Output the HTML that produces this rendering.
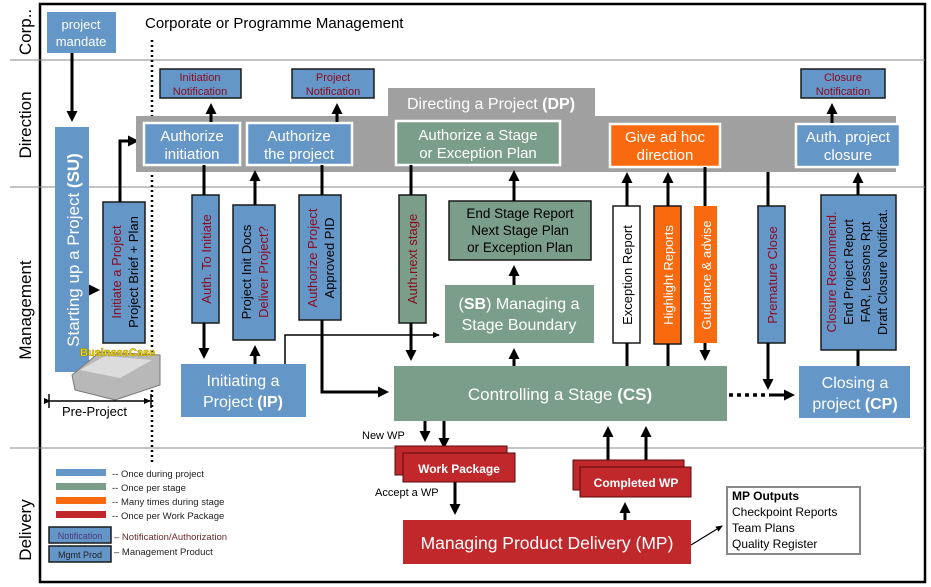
<!DOCTYPE html>
<html><head><meta charset="utf-8"><style>
html,body{margin:0;padding:0;background:#fff;}
svg{display:block;font-family:"Liberation Sans",sans-serif;}
</style></head><body>
<svg width="931" height="587" viewBox="0 0 931 587" xmlns="http://www.w3.org/2000/svg">
<defs>
<marker id="a" markerWidth="11" markerHeight="11" refX="8" refY="5.5" orient="auto" markerUnits="userSpaceOnUse"><path d="M0,0 L11,5.5 L0,11 z" fill="#000"/></marker>
<marker id="s" markerWidth="8" markerHeight="8" refX="6" refY="4" orient="auto" markerUnits="userSpaceOnUse"><path d="M0,1 L7,4 L0,7 z" fill="#000"/></marker>
</defs>
<rect x="40" y="4" width="885" height="578" fill="none" stroke="#000" stroke-width="2.5"/>
<line x1="10" y1="60" x2="925" y2="60" stroke="#888" stroke-width="1"/>
<line x1="10" y1="187" x2="925" y2="187" stroke="#888" stroke-width="1"/>
<line x1="10" y1="448" x2="925" y2="448" stroke="#888" stroke-width="1"/>
<g font-size="17" fill="#000" text-anchor="middle">
<text transform="translate(31,32) rotate(-90)">Corp..</text>
<text transform="translate(31,125) rotate(-90)">Direction</text>
<text transform="translate(31,310) rotate(-90)">Management</text>
<text transform="translate(31,530) rotate(-90)">Delivery</text>
</g>
<text x="145" y="28" font-size="15">Corporate or Programme Management</text>
<line x1="152" y1="40" x2="152" y2="462" stroke="#000" stroke-width="2.5" stroke-dasharray="2,3"/>

<rect x="47" y="12" width="69" height="41" fill="#6496c8"/>
<text x="81" y="29" font-size="13" fill="#fff" text-anchor="middle">project</text>
<text x="81" y="46" font-size="13" fill="#fff" text-anchor="middle">mandate</text>
<line x1="72" y1="53" x2="72" y2="119" stroke="#000" stroke-width="3" marker-end="url(#a)"/>

<rect x="55" y="127" width="34" height="245" fill="#6496c8"/>
<text transform="translate(79,250) rotate(-90)" font-size="17" fill="#fff" text-anchor="middle">Starting up a Project <tspan font-weight="bold">(SU)</tspan></text>
<line x1="89" y1="290" x2="97" y2="290" stroke="#000" stroke-width="3" marker-end="url(#a)"/>

<rect x="103" y="202" width="42" height="141" fill="#6496c8" stroke="#1a1a1a" stroke-width="1.5"/>
<text transform="translate(121,272) rotate(-90)" font-size="13" fill="#8b0a1e" text-anchor="middle">Initiate a Project</text>
<text transform="translate(138,272) rotate(-90)" font-size="13" fill="#000" text-anchor="middle">Project Brief + Plan</text>
<polyline points="120,202 120,141 136,141" fill="none" stroke="#000" stroke-width="3" marker-end="url(#a)"/>

<path d="M72,375 L100,352 L160,355 L160,385 L115,400 L75,390 z" fill="#b8b8b8" stroke="#777"/>
<path d="M80,370 L105,356 L152,360 L120,378 z" fill="#dcdcdc"/>
<text x="80" y="356" font-size="11" font-weight="bold" fill="#f5e000" stroke="#a08000" stroke-width="0.4">BusinessCase</text>
<line x1="50" y1="401" x2="150" y2="401" stroke="#000" stroke-width="1.5" marker-end="url(#s)" marker-start="url(#s)"/>
<line x1="49" y1="394" x2="49" y2="408" stroke="#000" stroke-width="1.5"/>
<line x1="151" y1="394" x2="151" y2="408" stroke="#000" stroke-width="1.5"/>
<text x="62" y="416" font-size="13">Pre-Project</text>

<rect x="388" y="88" width="207" height="30" fill="#a0a0a0"/>
<rect x="136" y="116" width="760" height="56" fill="#a0a0a0"/>
<text x="491" y="109" font-size="16" fill="#fff" text-anchor="middle">Directing a Project <tspan font-weight="bold">(DP)</tspan></text>
<g stroke="#fff" stroke-width="2.5">
<rect x="144" y="123" width="96" height="42" fill="#6496c8"/>
<rect x="247" y="123" width="105" height="42" fill="#6496c8"/>
<rect x="396" y="121" width="164" height="44" fill="#7a9e8a"/>
<rect x="610" y="124" width="110" height="43" fill="#f96a10"/>
<rect x="796" y="124" width="104" height="43" fill="#6496c8"/>
</g>
<g font-size="15" fill="#fff" text-anchor="middle">
<text x="192" y="141">Authorize</text><text x="192" y="159">initiation</text>
<text x="299" y="141">Authorize</text><text x="299" y="159">the project</text>
<text x="478" y="140">Authorize a Stage</text><text x="478" y="158">or Exception Plan</text>
<text x="665" y="142">Give ad hoc</text><text x="665" y="160">direction</text>
<text x="848" y="142">Auth. project</text><text x="848" y="160">closure</text>
</g>
<g fill="#6496c8" stroke="#1a1a1a" stroke-width="1.5">
<rect x="160" y="69" width="81" height="29"/>
<rect x="292" y="69" width="82" height="29"/>
<rect x="801" y="69" width="84" height="29"/>
</g>
<g font-size="11" fill="#8b0a1e" text-anchor="middle">
<text x="200" y="81">Initiation</text><text x="200" y="95">Notification</text>
<text x="333" y="81">Project</text><text x="333" y="95">Notification</text>
<text x="843" y="81">Closure</text><text x="843" y="95">Notification</text>
</g>
<g stroke="#000" stroke-width="3" fill="none">
<line x1="211" y1="122" x2="211" y2="106" marker-end="url(#a)"/>
<line x1="337" y1="122" x2="337" y2="106" marker-end="url(#a)"/>
<line x1="832" y1="123" x2="832" y2="106" marker-end="url(#a)"/>
</g>

<rect x="192" y="195" width="27" height="128" fill="#6496c8" stroke="#1a1a1a" stroke-width="1.5"/>
<text transform="translate(211,259) rotate(-90)" font-size="13" fill="#8b0a1e" text-anchor="middle">Auth. To Initiate</text>
<rect x="233" y="205" width="42" height="135" fill="#6496c8" stroke="#1a1a1a" stroke-width="1.5"/>
<text transform="translate(251,272) rotate(-90)" font-size="13" fill="#000" text-anchor="middle">Project Init Docs</text>
<text transform="translate(268,272) rotate(-90)" font-size="13" fill="#8b0a1e" text-anchor="middle">Deliver Project?</text>
<rect x="299" y="195" width="42" height="125" fill="#6496c8" stroke="#1a1a1a" stroke-width="1.5"/>
<text transform="translate(317,258) rotate(-90)" font-size="13" fill="#8b0a1e" text-anchor="middle">Authorize Project</text>
<text transform="translate(334,258) rotate(-90)" font-size="13" fill="#000" text-anchor="middle">Approved PID</text>
<rect x="399" y="195" width="27" height="128" fill="#7a9e8a" stroke="#1a1a1a" stroke-width="1.5"/>
<text transform="translate(417,259) rotate(-90)" font-size="13" fill="#8b0a1e" text-anchor="middle">Auth.next stage</text>

<rect x="449" y="201" width="142" height="59" fill="#7a9e8a" stroke="#1a1a1a" stroke-width="1.5"/>
<g font-size="13.5" fill="#000" text-anchor="middle">
<text x="520" y="218">End Stage Report</text><text x="520" y="235">Next Stage Plan</text><text x="520" y="252">or Exception Plan</text>
</g>
<rect x="445" y="285" width="149" height="58" fill="#7a9e8a"/>
<text x="519" y="309" font-size="16" fill="#fff" text-anchor="middle">(<tspan font-weight="bold">SB</tspan>) Managing a</text>
<text x="519" y="330" font-size="16" fill="#fff" text-anchor="middle">Stage Boundary</text>

<rect x="613" y="206" width="27" height="137" fill="#fff" stroke="#1a1a1a" stroke-width="1.5"/>
<text transform="translate(632,275) rotate(-90)" font-size="13" fill="#000" text-anchor="middle">Exception Report</text>
<rect x="654" y="206" width="27" height="138" fill="#f96a10" stroke="#1a1a1a" stroke-width="1.5"/>
<text transform="translate(673,275) rotate(-90)" font-size="13" fill="#fff" text-anchor="middle">Highlight Reports</text>
<rect x="694" y="206" width="23" height="137" fill="#f96a10"/>
<text transform="translate(711,275) rotate(-90)" font-size="13" fill="#fff" text-anchor="middle">Guidance &amp; advise</text>
<rect x="758" y="206" width="27" height="137" fill="#6496c8" stroke="#1a1a1a" stroke-width="1.5"/>
<text transform="translate(777,275) rotate(-90)" font-size="13" fill="#8b0a1e" text-anchor="middle">Premature Close</text>
<rect x="821" y="195" width="75" height="155" fill="#6496c8" stroke="#1a1a1a" stroke-width="1.5"/>
<g font-size="12.5" text-anchor="middle">
<text transform="translate(836,272) rotate(-90)" fill="#8b0a1e">Closure Recommend.</text>
<text transform="translate(853,272) rotate(-90)" fill="#000">End Project Report</text>
<text transform="translate(870,272) rotate(-90)" fill="#000">FAR, Lessons Rpt</text>
<text transform="translate(887,272) rotate(-90)" fill="#000">Draft Closure Notificat.</text>
</g>

<rect x="181" y="364" width="125" height="53" fill="#6496c8"/>
<text x="243" y="386" font-size="16" fill="#fff" text-anchor="middle">Initiating a</text>
<text x="243" y="407" font-size="16" fill="#fff" text-anchor="middle">Project <tspan font-weight="bold">(IP)</tspan></text>
<rect x="394" y="366" width="333" height="55" fill="#7a9e8a"/>
<text x="560" y="400" font-size="17" fill="#fff" text-anchor="middle">Controlling a Stage <tspan font-weight="bold">(CS)</tspan></text>
<rect x="799" y="366" width="111" height="52" fill="#6496c8"/>
<text x="855" y="388" font-size="16" fill="#fff" text-anchor="middle">Closing a</text>
<text x="855" y="409" font-size="16" fill="#fff" text-anchor="middle">project <tspan font-weight="bold">(CP)</tspan></text>

<g stroke="#000" stroke-width="3" fill="none">
<line x1="204" y1="165" x2="204" y2="195"/>
<line x1="204" y1="323" x2="204" y2="356" marker-end="url(#a)"/>
<line x1="255" y1="205" x2="255" y2="173" marker-end="url(#a)"/>
<line x1="255" y1="364" x2="255" y2="348" marker-end="url(#a)"/>
<line x1="322" y1="165" x2="322" y2="195"/>
<polyline points="322,320 322,392 386,392" marker-end="url(#a)"/>
<line x1="411" y1="165" x2="411" y2="195"/>
<line x1="411" y1="323" x2="411" y2="358" marker-end="url(#a)"/>
<line x1="514" y1="201" x2="514" y2="173" marker-end="url(#a)"/>
<line x1="514" y1="285" x2="514" y2="268" marker-end="url(#a)"/>
<line x1="514" y1="366" x2="514" y2="351" marker-end="url(#a)"/>
<line x1="627" y1="206" x2="627" y2="175" marker-end="url(#a)"/>
<line x1="627" y1="343" x2="627" y2="366"/>
<line x1="668" y1="206" x2="668" y2="175" marker-end="url(#a)"/>
<line x1="668" y1="344" x2="668" y2="366"/>
<line x1="705" y1="167" x2="705" y2="206"/>
<line x1="705" y1="343" x2="705" y2="358" marker-end="url(#a)"/>
<line x1="768" y1="172" x2="768" y2="206"/>
<line x1="768" y1="343" x2="768" y2="387" marker-end="url(#a)"/>
<line x1="770" y1="395" x2="792" y2="395" marker-end="url(#a)"/>
<line x1="858" y1="195" x2="858" y2="175" marker-end="url(#a)"/>
<line x1="858" y1="350" x2="858" y2="366"/>
<line x1="425" y1="421" x2="425" y2="439" marker-end="url(#a)"/>
<line x1="444" y1="421" x2="444" y2="446" marker-end="url(#a)"/>
<line x1="455" y1="482" x2="455" y2="512" marker-end="url(#a)"/>
<line x1="608" y1="460" x2="608" y2="429" marker-end="url(#a)"/>
<line x1="646" y1="467" x2="646" y2="429" marker-end="url(#a)"/>
<line x1="625" y1="520" x2="625" y2="505" marker-end="url(#a)"/>
</g>
<line x1="729" y1="395" x2="770" y2="395" stroke="#000" stroke-width="3.5" stroke-dasharray="4,4"/>
<polyline points="285,364 285,335 439,335" fill="none" stroke="#000" stroke-width="1.5" marker-end="url(#s)"/>
<line x1="691" y1="545" x2="722" y2="526" stroke="#000" stroke-width="1.2" marker-end="url(#s)"/>

<text x="362" y="439" font-size="11">New WP</text>
<text x="375" y="496" font-size="11">Accept a WP</text>
<rect x="395" y="446" width="112" height="29" fill="#c0282c" stroke="#5a0a0a" stroke-width="1"/>
<rect x="403" y="453" width="112" height="29" fill="#c0282c" stroke="#5a0a0a" stroke-width="1"/>
<text x="459" y="473" font-size="12" font-weight="bold" fill="#fff" text-anchor="middle">Work Package</text>
<rect x="573" y="460" width="111" height="30" fill="#c0282c" stroke="#5a0a0a" stroke-width="1"/>
<rect x="580" y="467" width="111" height="30" fill="#c0282c" stroke="#5a0a0a" stroke-width="1"/>
<text x="636" y="487" font-size="12" font-weight="bold" fill="#fff" text-anchor="middle">Completed WP</text>
<rect x="403" y="520" width="288" height="44" fill="#c0282c"/>
<text x="547" y="549" font-size="17.5" fill="#fff" text-anchor="middle">Managing Product Delivery (MP)</text>
<rect x="727" y="487" width="133" height="67" fill="#fff" stroke="#888" stroke-width="2"/>
<text x="732" y="500" font-size="12" font-weight="bold">MP Outputs</text>
<text x="732" y="516" font-size="12">Checkpoint Reports</text>
<text x="732" y="532" font-size="12">Team Plans</text>
<text x="732" y="548" font-size="12">Quality Register</text>

<rect x="56" y="469" width="50" height="7" fill="#6496c8"/>
<rect x="56" y="483" width="50" height="7" fill="#7a9e8a"/>
<rect x="56" y="497" width="50" height="7" fill="#f96a10"/>
<rect x="56" y="511" width="50" height="7" fill="#c0282c"/>
<g font-size="9.5" fill="#222">
<text x="112" y="477">-- Once during project</text>
<text x="112" y="491">-- Once per stage</text>
<text x="112" y="505">-- Many times during stage</text>
<text x="112" y="519">-- Once per Work Package</text>
</g>
<rect x="49" y="527" width="62" height="16" fill="#6496c8" stroke="#1a1a1a" stroke-width="1.5"/>
<text x="80" y="539" font-size="9" fill="#4a3a7a" text-anchor="middle">Notification</text>
<rect x="49" y="546" width="62" height="16" fill="#6496c8" stroke="#1a1a1a" stroke-width="1.5"/>
<text x="80" y="558" font-size="9" fill="#222" text-anchor="middle">Mgmt Prod</text>
<text x="114" y="540" font-size="9.5" fill="#6a2a2a">– Notification/Authorization</text>
<text x="114" y="555" font-size="9.5" fill="#222">– Management Product</text>
</svg>
</body></html>
